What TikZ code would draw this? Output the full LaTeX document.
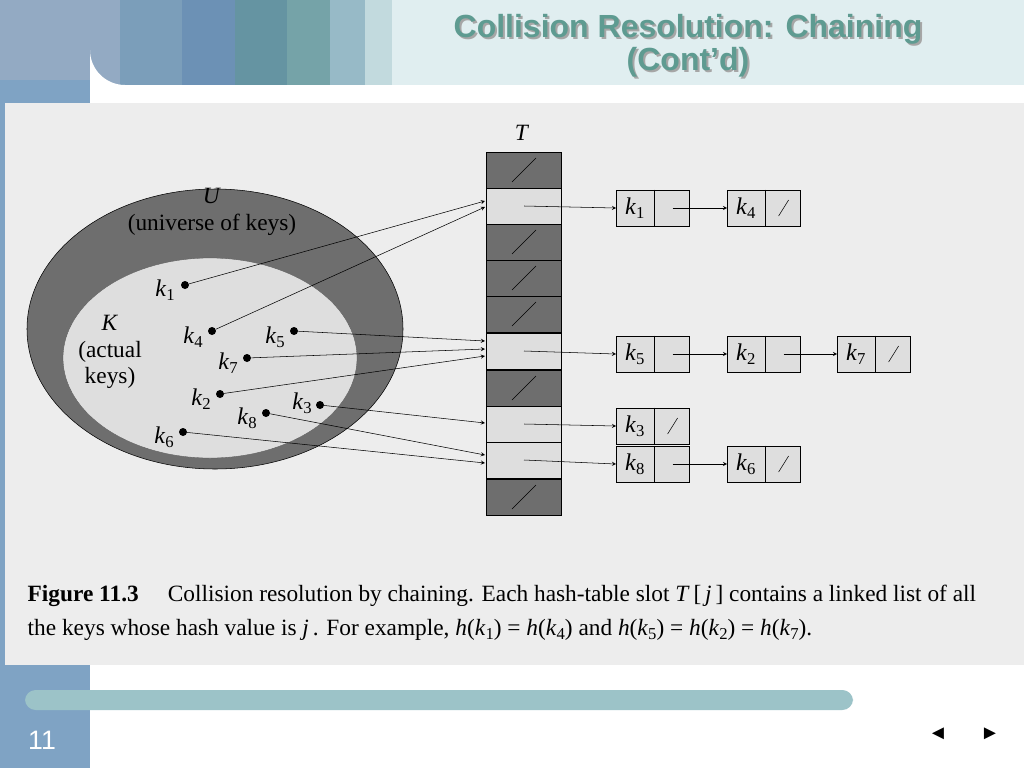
\documentclass[tikz,border=0pt]{standalone}
\usepackage{fontspec}
\setmainfont{Liberation Serif}
\newfontfamily\arialf{Liberation Sans}
\newcommand\kk[1]{\textit{k}\raisebox{-0.4ex}{\fontsize{12.5}{12.5}\selectfont #1}}
\definecolor{b1}{HTML}{93AAC3}\definecolor{b2}{HTML}{7B9EBA}\definecolor{b3}{HTML}{6C91B5}
\definecolor{b4}{HTML}{6594A2}\definecolor{b5}{HTML}{75A3A8}\definecolor{b6}{HTML}{97BAC7}
\definecolor{b7}{HTML}{C2DADE}\definecolor{b8}{HTML}{E0EEF0}\definecolor{ttl}{HTML}{5E9B91}
\definecolor{side}{HTML}{7FA3C4}\definecolor{figbg}{HTML}{EDEDED}\definecolor{dark}{HTML}{6E6E6E}
\definecolor{light}{HTML}{DEDEDE}\definecolor{barc}{HTML}{9CC3C8}
\begin{document}
\begin{tikzpicture}[x=0.75pt,y=-0.75pt,
  slotd/.style={draw,fill=dark,minimum width=56pt,minimum height=27pt,inner sep=0pt},
  slotl/.style={draw,fill=light,minimum width=56pt,minimum height=27pt,inner sep=0pt},
  key/.style={draw,fill=light,minimum width=55pt,minimum height=27pt,inner sep=0pt},
  dot/.style={circle,fill=black,inner sep=0pt,minimum size=6pt},
  arr/.style={-stealth,thin},
  lab/.style={font=\fontsize{17.5}{20}\selectfont,align=center}]
\useasboundingbox (0,0) rectangle (1024,768);
\fill[white] (0,0) rectangle (1024,768);
\fill[b8] (0,0) rectangle (1024,90);
\fill[b1] (0,0) rectangle (120,90);\fill[b2] (120,0) rectangle (182,90);
\fill[b3] (182,0) rectangle (235,90);\fill[b4] (235,0) rectangle (287,90);
\fill[b5] (287,0) rectangle (330,90);\fill[b6] (330,0) rectangle (365,90);
\fill[b7] (365,0) rectangle (392,90);
\fill[side] (0,80) rectangle (90,768);
\fill[white] (90,120) -- (90,768) -- (1024,768) -- (1024,85) -- (125,85) arc[start angle=90,end angle=180,radius=35] -- cycle;
\fill[figbg] (5,103) rectangle (1024,665);
\fill[side] (0,665) rectangle (85,768);
\fill[barc,rounded corners=8pt] (25,690) rectangle (853,710);
\node[text=white,font=\arialf\fontsize{20}{20}\selectfont] (pg) at (42,740) {11};
\node[font=\fontsize{15}{15}\selectfont] (pv) at (938,734) {\arialf ◄};
\node[font=\fontsize{15}{15}\selectfont] (nx) at (990,734) {\arialf ►};
\foreach \dx/\c in {2/gray!70,0/ttl}{
\node[text=\c,font=\arialf\bfseries\fontsize{24}{25}\selectfont,align=center] at (688+\dx,46+\dx) {Collision Resolution: Chaining\\(Cont’d)};}
% ellipses
\fill[dark,draw=black,thin] (215,329) ellipse [x radius=188,y radius=140];
\fill[light,draw=black!70,very thin] (210,358) ellipse [x radius=147,y radius=100];
\node[lab] (U) at (212,212) {\textit{U}\\(universe of keys)};
\node[lab] (K) at (110,352) {\textit{K}\\(actual\\keys)};
% table
\node[lab] (T) at (522,133) {\textit{T}};
\foreach \n/\y/\s in {0/170/d,1/206/l,2/242/d,3/278/d,4/314/d,5/351/l,6/388/d,7/424/l,8/460/l,9/497/d}{
  \node[slot\s] (s\n) at (524,\y) {};}
\foreach \n in {0,2,3,4,6,9}{\draw (s\n.center)+(-12,12) -- +(12,-12);}
% keys
\newcommand\kbox[4]{\node[key] (#1) at (#2,#3) {};
 \draw ([xshift=28.5pt]#1.north west) -- ([xshift=28.5pt]#1.south west);
 \node[font=\fontsize{18}{18}\selectfont] at ([xshift=14pt]#1.west) {\kk{#4}};}
\kbox{a1}{653}{208}{1}\kbox{a4}{764}{208}{4}
\kbox{a5}{653}{354}{5}\kbox{a2}{764}{354}{2}\kbox{a7}{874}{354}{7}
\kbox{a3}{653}{426}{3}\kbox{a8}{653}{464}{8}\kbox{a6}{764}{464}{6}
\foreach \b in {a4,a7,a3,a6}{\draw ([xshift=-13pt]\b.east)+(-5,8) -- +(5,-8);}
\foreach \a/\b in {s1/a1,s5/a5,s7/a3,s8/a8}{\draw[arr] (\a.center) -- (\b.west);}
\foreach \a/\b in {a1/a4,a5/a2,a2/a7,a8/a6}{\draw[arr] ([xshift=-13pt]\a.east) -- (\b.west);}
% points
\foreach \n/\x/\y/\lx/\ly in {1/185/285/165/290,4/212/331/193/337,5/294/331/275/337,7/247/358/228/363,2/220/394/201/399,8/266/413/247/418,3/320/405/302/403,6/183/432/164/437}{
 \node[dot] (p\n) at (\x,\y) {};
 \node[font=\fontsize{18}{18}\selectfont] (l\n) at (\lx,\ly) {\kk{\n}};}
\foreach \p/\y in {1/201,4/207,5/341,7/349,2/356,3/423,8/455,6/463}{
 \coordinate (e\p) at (485,\y); \draw[arr] (p\p) -- (e\p);}
% caption
\node[anchor=west,font=\fontsize{17.5}{19}\selectfont] (c1) at (23,596) {\textbf{Figure 11.3}\quad\ Collision resolution by chaining. Each hash-table slot \textit{T}\,[\,\textit{j}\,] contains a linked list of all};
\node[anchor=west,font=\fontsize{17.5}{19}\selectfont] (c2) at (23,630) {the keys whose hash value is \textit{j}\,. For example, \textit{h}(\kk{1}) = \textit{h}(\kk{4}) and \textit{h}(\kk{5}) = \textit{h}(\kk{2}) = \textit{h}(\kk{7}).};
\end{tikzpicture}
\end{document}
